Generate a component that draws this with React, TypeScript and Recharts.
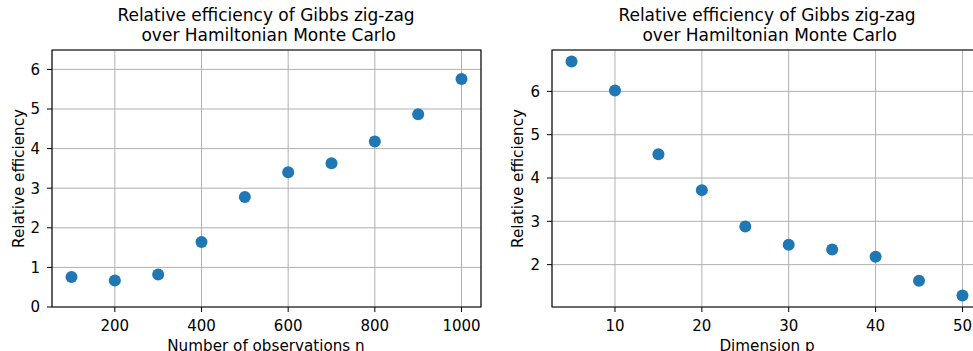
import React from 'react';
import { ScatterChart, Scatter, XAxis, YAxis, CartesianGrid, ReferenceArea } from 'recharts';

const obsN = [100, 200, 300, 400, 500, 600, 700, 800, 900, 1000];
const effByN = [0.76, 0.67, 0.82, 1.64, 2.78, 3.40, 3.63, 4.18, 4.87, 5.76];
const dimP = [5, 10, 15, 20, 25, 30, 35, 40, 45, 50];
const effByP = [6.69, 6.02, 4.55, 3.72, 2.88, 2.46, 2.35, 2.18, 1.63, 1.29];

const nTicks = [200, 400, 600, 800, 1000];
const effNTicks = [0, 1, 2, 3, 4, 5, 6];
const pTicks = [10, 20, 30, 40, 50];
const effPTicks = [2, 3, 4, 5, 6];

const titleLine1 = 'Relative efficiency of Gibbs zig-zag';
const titleLine2 = ' over Hamiltonian Monte Carlo';
const yLabel = 'Relative efficiency';
const xLabelN = 'Number of observations n';
const xLabelP = 'Dimension p';

const dataN = obsN.map((x, i) => ({ x, y: effByN[i] }));
const dataP = dimP.map((x, i) => ({ x, y: effByP[i] }));

const FONT = "'DejaVu Sans', sans-serif";
const tickStyle = { fill: '#000', fontSize: 15, fontFamily: FONT };

const Dot = (props: any) => <circle cx={props.cx} cy={props.cy} r={6} fill="#1f77b4" />;

function Panel(props: {
  data: { x: number; y: number }[];
  xDomain: [number, number];
  yDomain: [number, number];
  xTicks: number[];
  yTicks: number[];
  width: number;
  yAxisWidth: number;
  right: number;
}) {
  const { data, xDomain, yDomain, xTicks, yTicks, width, yAxisWidth, right } = props;
  return (
    <ScatterChart width={width} height={351} margin={{ top: 50, right, bottom: 0, left: 0 }}>
      <CartesianGrid stroke="#b0b0b0" strokeWidth={1} strokeDasharray="" />
      <XAxis
        type="number"
        dataKey="x"
        domain={xDomain}
        ticks={xTicks}
        interval={0}
        allowDataOverflow
        height={44}
        tickSize={5}
        tickMargin={8}
        tick={tickStyle}
        axisLine={false}
        tickLine={{ stroke: '#000' }}
      />
      <YAxis
        type="number"
        dataKey="y"
        domain={yDomain}
        ticks={yTicks}
        interval={0}
        allowDataOverflow
        width={yAxisWidth}
        tickSize={5}
        tickMargin={7}
        tick={tickStyle}
        axisLine={false}
        tickLine={{ stroke: '#000' }}
      />
      <Scatter data={data} shape={Dot} isAnimationActive={false} />
      <ReferenceArea
        x1={xDomain[0]}
        x2={xDomain[1]}
        y1={yDomain[0]}
        y2={yDomain[1]}
        fill="none"
        fillOpacity={0}
        stroke="#000"
        strokeWidth={1.1}
        ifOverflow="visible"
      />
    </ScatterChart>
  );
}

export default function App() {
  return (
    <div
      style={{
        position: 'absolute',
        left: 0,
        top: 0,
        width: 973,
        height: 351,
        overflow: 'hidden',
        background: '#fff',
      }}
    >
      <div style={{ position: 'absolute', left: 0, top: 0 }}>
        <Panel
          data={dataN}
          xDomain={[55, 1045]}
          yDomain={[0, 6.49]}
          xTicks={nTicks}
          yTicks={effNTicks}
          width={490}
          yAxisWidth={52}
          right={9}
        />
      </div>
      <div style={{ position: 'absolute', left: 490, top: 0 }}>
        <Panel
          data={dataP}
          xDomain={[2.75, 52.25]}
          yDomain={[1.022, 6.955]}
          xTicks={pTicks}
          yTicks={effPTicks}
          width={492}
          yAxisWidth={62}
          right={0}
        />
      </div>
      <svg
        width={973}
        height={351}
        style={{ position: 'absolute', left: 0, top: 0, pointerEvents: 'none' }}
        fontFamily={FONT}
        fill="#000"
      >
        <text x={266} y={21} fontSize={17} textAnchor="middle" style={{ whiteSpace: 'pre' }}>{titleLine1}</text>
        <text x={266} y={41} fontSize={17} textAnchor="middle" style={{ whiteSpace: 'pre' }}>{titleLine2}</text>
        <text x={767} y={21} fontSize={17} textAnchor="middle" style={{ whiteSpace: 'pre' }}>{titleLine1}</text>
        <text x={767} y={41} fontSize={17} textAnchor="middle" style={{ whiteSpace: 'pre' }}>{titleLine2}</text>
        <text x={266} y={351} fontSize={15.2} textAnchor="middle">{xLabelN}</text>
        <text x={767} y={351} fontSize={15.2} textAnchor="middle">{xLabelP}</text>
        <text x={0} y={0} fontSize={15.2} textAnchor="middle" transform="translate(23.5 178.5) rotate(-90)">{yLabel}</text>
        <text x={0} y={0} fontSize={15.2} textAnchor="middle" transform="translate(523 178.5) rotate(-90)">{yLabel}</text>
      </svg>
    </div>
  );
}
